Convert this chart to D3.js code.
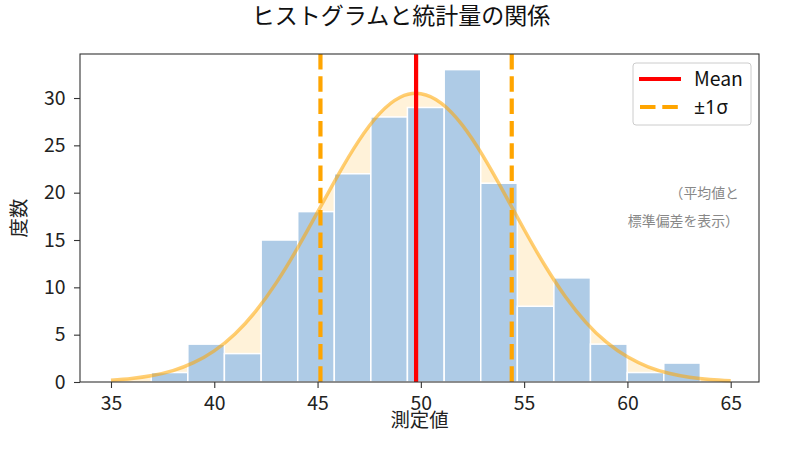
<!DOCTYPE html>
<html>
<head>
<meta charset="utf-8">
<script src="https://cdn.jsdelivr.net/npm/d3@7"></script>
<style>
  body { margin: 0; background: #fff; }
  text { font-family: "Noto Sans CJK JP", "Noto Sans", sans-serif; }
</style>
</head>
<body>
<div id="chart"></div>
<script>
// histogram bins (edges) and counts
var binEdges = [36.95, 38.72, 40.49, 42.27, 44.04, 45.81, 47.58, 49.35, 51.13, 52.90, 54.67, 56.44, 58.21, 59.99, 61.76, 63.53];
var counts = [1, 4, 3, 15, 18, 22, 28, 29, 33, 21, 8, 11, 4, 1, 2];

// fitted curve, read at whole x values
var curveX = [35, 36, 37, 38, 39, 40, 41, 42, 43, 44, 45, 46, 47, 48, 49, 50,
              51, 52, 53, 54, 55, 56, 57, 58, 59, 60, 61, 62, 63, 64, 65];
var curveY = [0.19, 0.37, 0.68, 1.2, 2.04, 3.29, 5.07, 7.46, 10.47, 14.03, 17.94, 21.89, 25.5, 28.35, 30.08, 30.46,
              29.44, 27.16, 23.91, 20.09, 16.11, 12.33, 9.01, 6.28, 4.18, 2.66, 1.61, 0.93, 0.51, 0.27, 0.14];

// statistics
var meanValue = 49.77;
var sdValue = 4.63;

var xTicks = [35, 40, 45, 50, 55, 60, 65];
var yTicks = [0, 5, 10, 15, 20, 25, 30];

var W = 800, H = 451;
var margin = {top: 54, right: 41, bottom: 69, left: 80},
    width = W - margin.left - margin.right,
    height = H - margin.top - margin.bottom;

var svg = d3.select("#chart")
  .append("svg")
    .attr("width", W)
    .attr("height", H);

var g = svg.append("g")
    .attr("transform", "translate(" + margin.left + "," + margin.top + ")");

var x = d3.scaleLinear()
  .domain([33.5, 66.37])
  .range([0, width]);

var y = d3.scaleLinear()
  .domain([0, 34.65])
  .range([height, 0]);

// area under the curve
var pts = curveX.map(function(v, i) { return {x: v, y: curveY[i]}; });

g.append("path")
  .datum(pts)
  .attr("fill", "#ffa500")
  .attr("fill-opacity", 0.15)
  .attr("d", d3.area()
    .x(function(d) { return x(d.x); })
    .y0(y(0))
    .y1(function(d) { return y(d.y); })
    .curve(d3.curveNatural));

// bars
var bins = counts.map(function(c, i) { return {x0: binEdges[i], x1: binEdges[i + 1], n: c}; });

g.selectAll("rect.bar")
  .data(bins)
  .enter()
  .append("rect")
    .attr("class", "bar")
    .attr("x", function(d) { return x(d.x0); })
    .attr("y", function(d) { return y(d.n); })
    .attr("width", function(d) { return x(d.x1) - x(d.x0); })
    .attr("height", function(d) { return y(0) - y(d.n); })
    .attr("fill", "#aecbe6")
    .attr("stroke", "#fff")
    .attr("stroke-width", 1.5);

// curve line
g.append("path")
  .datum(pts)
  .attr("fill", "none")
  .attr("stroke", "#ffa500")
  .attr("stroke-opacity", 0.55)
  .attr("stroke-width", 3.5)
  .attr("d", d3.line()
    .x(function(d) { return x(d.x); })
    .y(function(d) { return y(d.y); })
    .curve(d3.curveNatural));

// mean and +-1 sigma lines
g.append("line")
  .attr("x1", x(meanValue)).attr("x2", x(meanValue))
  .attr("y1", 0).attr("y2", height)
  .attr("stroke", "red")
  .attr("stroke-width", 4.2);

[meanValue - sdValue, meanValue + sdValue].forEach(function(v) {
  g.append("line")
    .attr("x1", x(v)).attr("x2", x(v))
    .attr("y1", 0).attr("y2", height)
    .attr("stroke", "#ffa500")
    .attr("stroke-width", 4.2)
    .attr("stroke-dasharray", "15.5,6.8");
});

// axes
var xAxis = g.append("g")
  .attr("transform", "translate(0," + height + ")")
  .call(d3.axisBottom(x).tickValues(xTicks).tickSize(6).tickPadding(8));

var yAxis = g.append("g")
  .call(d3.axisLeft(y).tickValues(yTicks).tickSize(6).tickPadding(8.5));

[xAxis, yAxis].forEach(function(a) {
  a.select(".domain").remove();
  a.selectAll("line").attr("stroke", "#333").attr("stroke-width", 1.1);
  a.selectAll("text").attr("font-size", "19.4px").attr("fill", "#222")
    .style("font-family", "'Noto Sans CJK JP', sans-serif");
});

// frame
g.append("rect")
  .attr("width", width).attr("height", height)
  .attr("fill", "none")
  .attr("stroke", "#333")
  .attr("stroke-width", 1.1);

// title and labels
svg.append("text")
  .attr("x", 401).attr("y", 24)
  .attr("text-anchor", "middle")
  .attr("font-size", "23px")
  .attr("fill", "#111")
  .text("ヒストグラムと統計量の関係");

svg.append("text")
  .attr("x", margin.left + width / 2).attr("y", 427)
  .attr("text-anchor", "middle")
  .attr("font-size", "19.4px")
  .attr("fill", "#222")
  .text("測定値");

svg.append("text")
  .attr("transform", "translate(26," + (margin.top + height / 2) + ") rotate(-90)")
  .attr("text-anchor", "middle")
  .attr("font-size", "19.4px")
  .attr("fill", "#222")
  .text("度数");

// note
var note = g.append("text")
  .attr("text-anchor", "end")
  .attr("font-size", "13.9px")
  .attr("fill", "#888");
note.append("tspan").attr("x", 659).attr("y", 143.5).text("（平均値と");
note.append("tspan").attr("x", 659).attr("y", 171.5).text("標準偏差を表示）");

// legend
var legend = svg.append("g").attr("transform", "translate(633,63)");
legend.append("rect")
  .attr("width", 118).attr("height", 62).attr("rx", 3)
  .attr("fill", "#fff").attr("fill-opacity", 0.8)
  .attr("stroke", "#ccc").attr("stroke-width", 1);
legend.append("line")
  .attr("x1", 6).attr("x2", 48).attr("y1", 16).attr("y2", 16)
  .attr("stroke", "red").attr("stroke-width", 4.2);
legend.append("line")
  .attr("x1", 7).attr("x2", 48).attr("y1", 44).attr("y2", 44)
  .attr("stroke", "#ffa500").attr("stroke-width", 4.2)
  .attr("stroke-dasharray", "15.5,6.8");
legend.append("text").attr("x", 61).attr("y", 22.5)
  .attr("font-size", "19.4px").attr("fill", "#111").text("Mean");
legend.append("text").attr("x", 61).attr("y", 51)
  .attr("font-size", "19.4px").attr("fill", "#111")
  .style("font-family", "'Noto Sans', sans-serif")
  .text("±1σ");
</script>
</body>
</html>
